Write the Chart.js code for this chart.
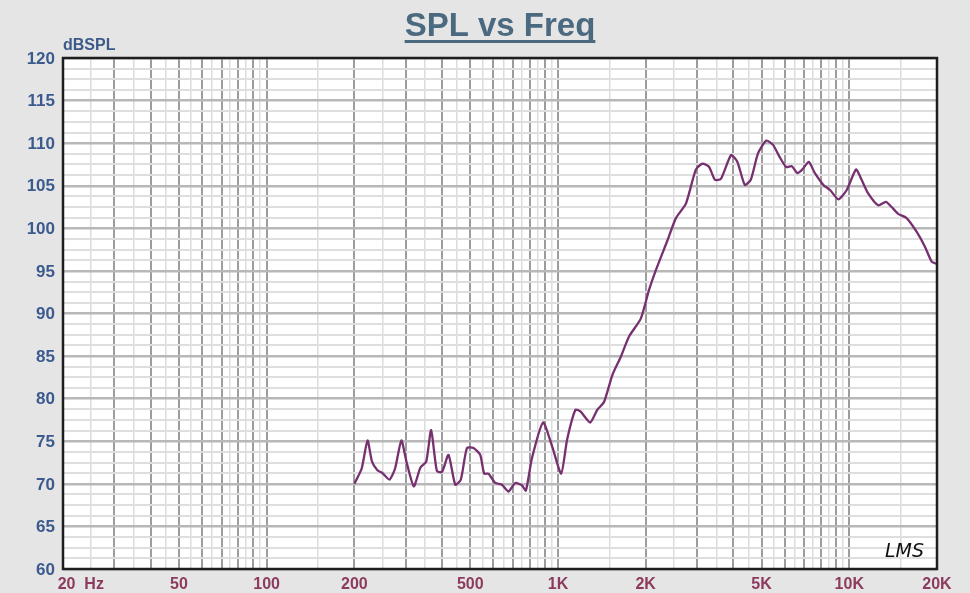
<!DOCTYPE html>
<html>
<head>
  <title>SPL vs Freq</title>
  <style>
    body { margin: 0; padding: 0; background-color: #e5e5e5; }
    #wrap { width: 970px; height: 593px; }
  </style>
</head>
<body>

<div id="wrap">
  <canvas id="spl-chart" width="970" height="593"></canvas>
</div>

<script src="https://cdn.jsdelivr.net/npm/chart.js"></script>
<script>
const freqs = [200, 212, 222, 230, 240, 249, 264, 276, 290, 302, 320, 337, 353, 367, 384, 400, 421, 444, 464, 487,
  513, 541, 558, 577, 609, 642, 676, 714, 753, 776, 814, 889, 955, 1026, 1075, 1148, 1194, 1290, 1365, 1439,
  1538, 1642, 1754, 1924, 2055, 2168, 2377, 2540, 2749, 2973, 3133, 3302, 3457, 3624, 3928, 4130, 4377, 4590, 4860, 5192,
  5474, 5761, 6070, 6350, 6630, 6890, 7260, 7610, 8150, 8590, 9170, 9800, 10550, 11020, 11610, 12570, 13350, 13970, 14720, 15730,
  17020, 18180, 19170, 20000];
const spl = [70.0, 71.8, 75.1, 72.6, 71.6, 71.3, 70.5, 71.8, 75.1, 72.6, 69.7, 71.9, 72.6, 76.3, 71.5, 71.4, 73.4, 69.9, 70.5, 74.2,
  74.2, 73.4, 71.2, 71.2, 70.1, 69.9, 69.1, 70.1, 69.8, 69.2, 73.0, 77.2, 74.4, 71.2, 75.2, 78.7, 78.5, 77.2, 78.7, 79.6,
  82.8, 84.9, 87.3, 89.4, 92.8, 95.1, 98.6, 101.2, 102.9, 106.9, 107.6, 107.2, 105.7, 105.8, 108.6, 107.8, 105.1, 105.7, 108.8, 110.3,
  109.8, 108.4, 107.2, 107.3, 106.5, 106.9, 107.8, 106.5, 105.1, 104.5, 103.4, 104.5, 106.9, 105.7, 104.1, 102.7, 103.1, 102.5, 101.7, 101.2,
  99.6, 97.85, 96.1, 95.8];

// frequency grid lines and labelled ticks
const xGridFreqs = [25, 30, 35, 40, 45, 50, 55, 60, 65, 70, 75, 80, 85, 90, 95,
  100, 150, 200, 250, 300, 350, 400, 450, 500, 550, 600, 650, 700, 750, 800, 850, 900, 950,
  1000, 1500, 2000, 2500, 3000, 3500, 4000, 4500, 5000, 5500, 6000, 6500, 7000, 7500, 8000, 8500, 9000, 9500,
  10000, 15000, 20000];
const xLabelFreqs = [20, 50, 100, 200, 500, 1000, 2000, 5000, 10000, 20000];
const xLabelText = ['        20  Hz', '50', '100', '200', '500', '1K', '2K', '5K', '10K', '20K'];

const yMin = 60, yMax = 120, yStep = 1.25;

function isMajorFreq(f) {
  const d = Math.pow(10, Math.floor(Math.log10(f) + 1e-9));
  return Math.abs(f / d - Math.round(f / d)) < 1e-6;
}

const framePlugin = {
  id: 'frame',
  beforeDraw(chart) {
    const { ctx, chartArea: a } = chart;
    ctx.save();
    ctx.fillStyle = '#e5e5e5';
    ctx.fillRect(0, 0, chart.width, chart.height);
    ctx.fillStyle = '#ffffff';
    ctx.fillRect(a.left, a.top, a.right - a.left, a.bottom - a.top);
    ctx.restore();
  },
  afterDraw(chart) {
    const { ctx, chartArea: a } = chart;
    ctx.save();
    ctx.strokeStyle = '#1e1e1e';
    ctx.lineWidth = 2.5;
    ctx.strokeRect(a.left, a.top, a.right - a.left, a.bottom - a.top);

    // title, underlined
    ctx.font = 'bold 33px "Liberation Sans", Arial, sans-serif';
    ctx.fillStyle = '#4b6a80';
    ctx.textAlign = 'center';
    ctx.textBaseline = 'alphabetic';
    const title = 'SPL vs Freq';
    const tw = ctx.measureText(title).width;
    ctx.fillText(title, 500, 36);
    ctx.fillRect(500 - tw / 2, 40, tw, 3);

    // y unit
    ctx.font = 'bold 16px "Liberation Sans", Arial, sans-serif';
    ctx.fillStyle = '#3d5a8a';
    ctx.textAlign = 'left';
    ctx.fillText('dBSPL', 63, 50);

    // signature
    ctx.font = 'italic 19px "DejaVu Sans", sans-serif';
    ctx.fillStyle = '#111111';
    ctx.fillText('LMS', 885, 557);
    ctx.restore();
  }
};

const ctx = document.getElementById('spl-chart').getContext('2d');
new Chart(ctx, {
  type: 'line',
  data: {
    datasets: [{
      label: 'SPL',
      data: freqs.map((f, i) => ({ x: f, y: spl[i] })),
      borderColor: '#76306f',
      borderWidth: 2.3,
      pointRadius: 0,
      tension: 0.2,
      fill: false
    }]
  },
  options: {
    responsive: false,
    animation: false,
    layout: { padding: { top: 58, right: 33, left: 0, bottom: 0 } },
    plugins: {
      legend: { display: false },
      tooltip: { enabled: false }
    },
    scales: {
      x: {
        type: 'logarithmic',
        min: 20,
        max: 20000,
        afterBuildTicks: scale => {
          scale.ticks = xGridFreqs.concat(xLabelFreqs)
            .filter((v, i, arr) => arr.indexOf(v) === i)
            .sort((a, b) => a - b)
            .map(v => ({ value: v }));
        },
        afterFit: scale => { scale.height = 24; },
        border: { display: false },
        grid: {
          drawTicks: false,
          color: c => (c.tick && isMajorFreq(c.tick.value)) ? '#9c9c9c' : '#dcdcdc',
          lineWidth: c => (c.tick && isMajorFreq(c.tick.value)) ? 2 : 1.5
        },
        ticks: {
          autoSkip: false,
          maxRotation: 0,
          padding: 6,
          color: '#8c3b5e',
          font: { family: '"Liberation Sans", Arial, sans-serif', size: 16, weight: 'bold' },
          callback: value => {
            const i = xLabelFreqs.indexOf(value);
            return i >= 0 ? xLabelText[i] : '';
          }
        }
      },
      y: {
        min: yMin,
        max: yMax,
        afterFit: scale => { scale.width = 63; },
        border: { display: false },
        grid: {
          drawTicks: false,
          color: c => (c.tick && c.tick.value % 5 === 0) ? '#b8b8b8' : '#dedede',
          lineWidth: c => (c.tick && c.tick.value % 5 === 0) ? 2.5 : 2
        },
        ticks: {
          stepSize: yStep,
          autoSkip: false,
          padding: 8,
          labelOffset: 1,
          color: '#3b5b8e',
          font: { family: '"Liberation Sans", Arial, sans-serif', size: 17, weight: 'bold' },
          callback: value => value % 5 === 0 ? value : ''
        }
      }
    }
  },
  plugins: [framePlugin]
});
</script>

</body>
</html>
